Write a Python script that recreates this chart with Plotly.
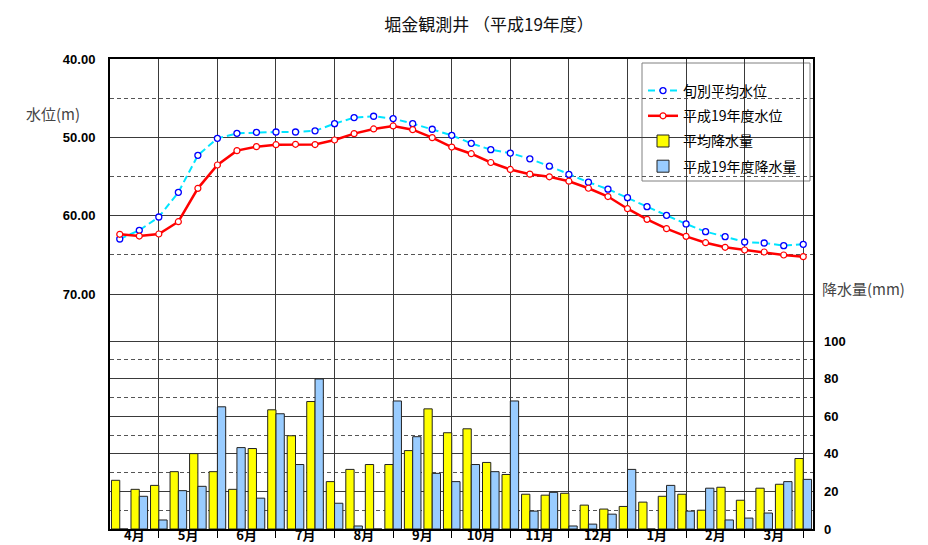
import plotly.graph_objects as go

# ---- data (36 dekads: April 上旬 ... March 下旬) ----
dekads = list(range(36))
months = ["4月", "5月", "6月", "7月", "8月", "9月", "10月", "11月", "12月", "1月", "2月", "3月"]

avg_level = [62.98, 61.87, 60.17, 57.02, 52.30, 50.13, 49.49, 49.36, 49.32, 49.32,
             49.17, 48.25, 47.48, 47.31, 47.61, 48.25, 48.97, 49.74, 50.77, 51.58,
             52.01, 52.74, 53.68, 54.74, 55.73, 56.62, 57.70, 58.85, 59.96, 61.06,
             62.04, 62.68, 63.36, 63.49, 63.83, 63.66]

year_level = [62.38, 62.60, 62.34, 60.77, 56.51, 53.53, 51.70, 51.19, 50.94, 50.89,
              50.92, 50.34, 49.53, 48.93, 48.55, 49.02, 50.04, 51.24, 52.09, 53.21,
              54.10, 54.70, 55.04, 55.60, 56.50, 57.56, 59.11, 60.47, 61.66, 62.64,
              63.45, 64.04, 64.38, 64.64, 65.02, 65.23]

avg_rain = [25.9, 21.1, 23.2, 30.5, 40.1, 30.5, 21.1, 42.8, 63.4, 49.6,
            67.8, 25.2, 31.7, 34.3, 34.3, 41.7, 63.9, 51.2, 53.3, 35.4,
            29.0, 18.5, 18.0, 19.0, 12.7, 10.6, 12.0, 14.3, 17.4, 18.5,
            10.0, 22.2, 15.3, 21.7, 23.8, 37.5]

year_rain = [0.0, 17.4, 4.8, 20.4, 22.7, 65.0, 43.3, 16.4, 61.3, 34.3,
             79.8, 13.7, 1.6, 0.0, 68.1, 49.1, 29.6, 25.2, 34.3, 30.5,
             68.1, 9.5, 19.5, 1.6, 2.6, 7.9, 31.7, 0.0, 23.2, 9.5,
             21.7, 4.8, 5.8, 8.5, 25.2, 26.4]

level_ticks = [40, 50, 60, 70]
level_minor = [45, 55, 65]
rain_ticks = [0, 20, 40, 60, 80, 100]
rain_minor = [10, 30, 50, 70, 90]

# month boundary lines sit on the 3rd dekad of each month
month_lines = [3 * k + 2 for k in range(12)]
month_label_pos = [(-0.5 + 2) / 2] + [3 * k + 3.5 for k in range(11)]

CJK = "Noto Sans CJK JP"
NUM = "Liberation Sans"

# page body has an 8px margin -> figure is drawn 8px in from the window corner
OFF = 8
W, H = 928 - OFF, 545 - OFF
PL, PR, PT, PB = 110, 813, 59, 529          # plot box in window pixels


def px(xw):
    return (xw - PL) / (PR - PL)


def py(yw):
    return (PB - yw) / (PB - PT)


fig = go.Figure()

fig.add_trace(go.Scatter(
    x=dekads, y=avg_level, name="旬別平均水位", mode="lines+markers",
    legendgroup="a",
    line=dict(color="#00E5FF", width=2, dash="7px,4px"),
    marker=dict(symbol="circle", size=6, color="white",
                line=dict(color="#0000FF", width=1.3)),
    xaxis="x", yaxis="y"))

fig.add_trace(go.Scatter(
    x=dekads, y=year_level, name="平成19年度水位", mode="lines+markers",
    legendgroup="b",
    line=dict(color="#FF0000", width=2.5),
    marker=dict(symbol="circle", size=6, color="white",
                line=dict(color="#FF0000", width=1.2)),
    xaxis="x", yaxis="y"))

fig.add_trace(go.Bar(
    x=dekads, y=avg_rain, name="平均降水量", legendgroup="c",
    marker=dict(color="#FFFF00", line=dict(color="#222222", width=1)),
    xaxis="x2", yaxis="y2"))

fig.add_trace(go.Bar(
    x=dekads, y=year_rain, name="平成19年度降水量", legendgroup="d",
    marker=dict(color="#99CCFF", line=dict(color="#222222", width=1)),
    xaxis="x2", yaxis="y2"))

grid_solid = "#3a3a3a"
grid_dash = "#555555"

fig.update_layout(
    width=W, height=H,
    margin=dict(l=PL - OFF, r=W - (PR - OFF), t=PT - OFF, b=H - (PB - OFF), autoexpand=False),
    paper_bgcolor="white", plot_bgcolor="white",
    barmode="group", bargap=0.15, bargroupgap=0.0,
    showlegend=True,
    title=dict(text="堀金観測井 （平成19年度）",
               font=dict(family=CJK, size=17, color="#111111"),
               x=(489 - OFF) / W, xref="container", xanchor="center",
               y=1 - (25 - OFF) / H, yref="container", yanchor="middle"),
    xaxis=dict(range=[-0.5, 35.5], tickmode="array", tickvals=month_lines,
               showticklabels=False, ticks="outside", ticklen=7, tickcolor="black", tickwidth=1,
               showgrid=True, gridcolor=grid_solid, gridwidth=1,
               showline=True, linecolor="black", linewidth=2, mirror=True,
               zeroline=False, fixedrange=True, automargin=False),
    xaxis2=dict(range=[-0.5, 35.5], overlaying="x", anchor="y2", side="bottom",
                tickmode="array", tickvals=month_label_pos, ticktext=months,
                ticks="", ticklabelstandoff=-3,
                showgrid=False, showline=False, zeroline=False, automargin=False,
                tickfont=dict(family=CJK, size=13, color="black", weight="bold")),
    yaxis=dict(range=[100, 40], tickmode="array", tickvals=level_ticks,
               ticktext=[f"{v:.2f}" for v in level_ticks],
               ticks="", ticklabelstandoff=10, automargin=False,
               tickfont=dict(family=NUM, size=13, color="black", weight="bold"),
               showgrid=True, gridcolor=grid_solid, gridwidth=1,
               minor=dict(tickmode="array", tickvals=level_minor, showgrid=True,
                          gridcolor=grid_dash, griddash="4px,3px", gridwidth=1),
               showline=True, linecolor="black", linewidth=2, mirror=True,
               zeroline=False),
    yaxis2=dict(range=[0, 250], overlaying="y", side="right", anchor="x",
                tickmode="array", tickvals=rain_ticks,
                ticks="", ticklabelstandoff=10, automargin=False,
                tickfont=dict(family=NUM, size=13, color="black", weight="bold"),
                showgrid=True, gridcolor=grid_solid, gridwidth=1,
                minor=dict(tickmode="array", tickvals=rain_minor, showgrid=True,
                           gridcolor=grid_dash, griddash="4px,3px", gridwidth=1),
                showline=False, zeroline=False),
    legend=dict(x=px(643), xanchor="left", y=py(75), yanchor="top",
                bgcolor="rgba(0,0,0,0)", borderwidth=0,
                font=dict(family=CJK, size=14, color="black"),
                itemwidth=30, traceorder="grouped", tracegroupgap=4),
    shapes=[
        dict(type="rect", xref="paper", yref="paper",
             x0=px(642), x1=px(810), y0=py(181), y1=py(63),
             fillcolor="white", line=dict(color="#808080", width=1), layer="between"),
    ],
    annotations=[
        dict(text="水位(m)", xref="paper", yref="paper", x=px(53), y=py(113),
             xanchor="center", yanchor="middle", showarrow=False,
             font=dict(family=CJK, size=15, color="#444444")),
        dict(text="降水量(mm)", xref="paper", yref="paper", x=px(864),
             y=py(288), xanchor="center", yanchor="middle", showarrow=False,
             font=dict(family=CJK, size=15, color="#444444")),
    ],
)

fig.write_html("out.html")
